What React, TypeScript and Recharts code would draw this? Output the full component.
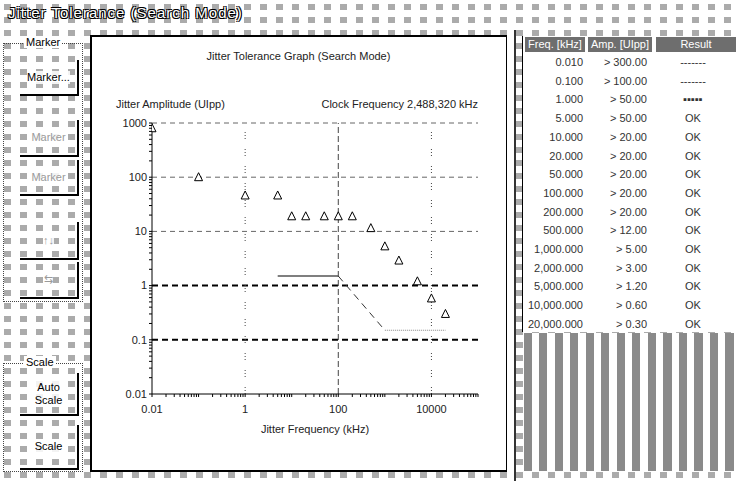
import React from "react";
import { ComposedChart, Scatter, XAxis, YAxis, ReferenceLine } from "recharts";

// measured points (kHz / UIpp)
const freqKHz = [0.01, 0.1, 1, 5, 10, 20, 50, 100, 200, 500, 1000, 2000, 5000, 10000, 20000];
const ampUIpp = [800, 100, 46, 46, 19, 19, 19, 19, 19, 11.5, 5.3, 2.9, 1.2, 0.58, 0.3];

// tolerance mask
const maskFreq = [5, 100, 1000, 20000];
const maskAmp = [1.5, 1.5, 0.15, 0.15];

// table text
const freqLabels = ["0.010", "0.100", "1.000", "5.000", "10.000", "20.000", "50.000", "100.000", "200.000", "500.000", "1,000.000", "2,000.000", "5,000.000", "10,000.000", "20,000.000"];
const ampLabels = ["> 300.00", "> 100.00", "> 50.00", "> 50.00", "> 20.00", "> 20.00", "> 20.00", "> 20.00", "> 20.00", "> 12.00", "> 5.00", "> 3.00", "> 1.20", "> 0.60", "> 0.30"];
const resultLabels = ["-------", "-------", "▪▪▪▪▪", "OK", "OK", "OK", "OK", "OK", "OK", "OK", "OK", "OK", "OK", "OK", "OK"];

// axes
const xDecades = [0.01, 0.1, 1, 10, 100, 1000, 10000, 100000];
const xMajor = [0.01, 1, 100, 10000];
const xMajorLabels = ["0.01", "1", "100", "10000"];
const yDecades = [0.01, 0.1, 1, 10, 100, 1000];
const yMajorLabels = ["0.01", "0.1", "1", "10", "100", "1000"];

const withMinor = (dec: number[]) =>
  dec.flatMap((d, i) => (i < dec.length - 1 ? [d, 2, 3, 4, 5, 6, 7, 8, 9].map((k, j) => (j === 0 ? d : d * k)) : [d]));

const xTicks = withMinor(xDecades);
const yTicks = withMinor(yDecades);

const points = freqKHz.map((f, i) => ({ f, a: ampUIpp[i] }));
const maskSeg = (i: number) => [
  { f: maskFreq[i], a: maskAmp[i] },
  { f: maskFreq[i + 1], a: maskAmp[i + 1] },
];

const FONT = '"Liberation Sans", Arial, sans-serif';

const Triangle = (p: any) => {
  const { cx, cy } = p;
  if (cx == null || cy == null) return <g />;
  return (
    <path
      d={`M${cx},${cy - 4.5}L${cx + 4},${cy + 3.5}L${cx - 4},${cy + 3.5}Z`}
      fill="#fff"
      stroke="#000"
      strokeWidth={1}
    />
  );
};

const NoDot = () => <g />;

const XTick = (p: any) => {
  const idx = xMajor.indexOf(p.payload.value);
  if (idx < 0) return <g />;
  return (
    <text x={p.x} y={p.y} dy="0.71em" textAnchor="middle" fontSize={11} fill="#222" fontFamily={FONT}>
      {xMajorLabels[idx]}
    </text>
  );
};

const YTick = (p: any) => {
  const idx = yDecades.indexOf(p.payload.value);
  if (idx < 0) return <g />;
  return (
    <text x={p.x} y={p.y} dy="0.35em" textAnchor="end" fontSize={11} fill="#222" fontFamily={FONT}>
      {yMajorLabels[idx]}
    </text>
  );
};

const pattern = {
  backgroundColor: "#ababab",
  backgroundImage:
    "linear-gradient(90deg, rgba(0,0,0,0) 7px, #fff 7px), linear-gradient(180deg, rgba(0,0,0,0) 6px, #fff 6px)",
  backgroundSize: "16px 13px",
  backgroundPosition: "4px 4px",
};

const Button = ({ top, height, children, disabled }: { top: number; height: number; children: React.ReactNode; disabled?: boolean }) => (
  <div
    style={{
      position: "absolute",
      left: 20,
      top,
      width: 57,
      height,
      borderRight: "2px solid #000",
      borderBottom: "2px solid #000",
      display: "flex",
      alignItems: "center",
      justifyContent: "center",
      textAlign: "center",
      color: disabled ? "#9a9a9a" : "#000",
      fontSize: 11,
      lineHeight: "13px",
    }}
  >
    <span style={{ background: "rgba(255,255,255,0.85)" }}>{children}</span>
  </div>
);

const GroupBox = ({ top, height, label }: { top: number; height: number; label: string }) => (
  <div
    style={{
      position: "absolute",
      left: 3,
      top,
      width: 78,
      height,
      border: "1px dotted #444",
    }}
  >
    <span style={{ position: "absolute", left: 20, top: -8, background: "#fff", padding: "0 2px", fontSize: 11 }}>{label}</span>
  </div>
);

const ROW_H = 18.7;

export default function App() {
  return (
    <div
      style={{
        position: "absolute",
        left: 0,
        top: 0,
        width: 740,
        height: 481,
        overflow: "hidden",
        fontFamily: FONT,
        ...pattern,
      }}
    >
      {/* window title */}
      <div
        style={{
          position: "absolute",
          left: 8,
          top: 4,
          fontSize: 15,
          color: "#fff",
          letterSpacing: 1,
          textShadow: "1px 1px 0 #000, -1px -1px 0 #000, 1px -1px 0 #000, -1px 1px 0 #000",
        }}
      >
        Jitter Tolerance (Search Mode)
      </div>

      {/* left controls */}
      <GroupBox top={43} height={257} label="Marker" />
      <Button top={60} height={34}>Marker...</Button>
      <Button top={120} height={35} disabled>Marker</Button>
      <Button top={160} height={34} disabled>Marker</Button>
      <Button top={222} height={36} disabled>↑↓</Button>
      <Button top={262} height={35} disabled>⇆</Button>
      <GroupBox top={363} height={107} label="Scale" />
      <Button top={373} height={41}>Auto<br />Scale</Button>
      <Button top={425} height={43}>Scale</Button>

      {/* graph panel */}
      <div
        style={{
          position: "absolute",
          left: 90,
          top: 35,
          width: 414,
          height: 433,
          background: "#fff",
          borderLeft: "2px solid #000",
          borderTop: "2px solid #000",
          borderRight: "1px solid #000",
          borderBottom: "2px solid #000",
        }}
      />
      <div style={{ position: "absolute", left: 91, top: 50, width: 415, textAlign: "center", fontSize: 11, color: "#222" }}>
        Jitter Tolerance Graph (Search Mode)
      </div>
      <div style={{ position: "absolute", left: 116, top: 98, fontSize: 11, color: "#222" }}>Jitter Amplitude (UIpp)</div>
      <div style={{ position: "absolute", left: 300, width: 178, top: 98, textAlign: "right", fontSize: 11, color: "#222" }}>
        Clock Frequency 2,488,320 kHz
      </div>
      <div style={{ position: "absolute", left: 91, top: 36 }}>
        <ComposedChart width={415} height={434} margin={{ top: 87, right: 28, left: 21, bottom: 46 }}>
          <XAxis
            type="number"
            dataKey="f"
            scale="log"
            domain={[0.01, 100000]}
            allowDataOverflow
            ticks={xTicks}
            interval={0}
            height={30}
            tickSize={3}
            tickMargin={8}
            axisLine={{ stroke: "#000" }}
            tickLine={{ stroke: "#000" }}
            tick={XTick}
            label={{ value: "Jitter Frequency (kHz)", position: "bottom", offset: 1, fontSize: 11, fill: "#222" }}
          />
          <YAxis
            type="number"
            dataKey="a"
            scale="log"
            domain={[0.01, 1000]}
            allowDataOverflow
            ticks={yTicks}
            interval={0}
            width={40}
            tickSize={3}
            tickMargin={2}
            axisLine={{ stroke: "#000" }}
            tickLine={{ stroke: "#000" }}
            tick={YTick}
          />
          <ReferenceLine y={1000} stroke="#666" strokeDasharray="5 4" />
          <ReferenceLine y={100} stroke="#666" strokeDasharray="5 4" />
          <ReferenceLine y={10} stroke="#666" strokeDasharray="5 4" />
          <ReferenceLine y={1} stroke="#000" strokeWidth={2} strokeDasharray="6 4" />
          <ReferenceLine y={0.1} stroke="#000" strokeWidth={2} strokeDasharray="6 4" />
          <ReferenceLine x={1} stroke="#444" strokeDasharray="1 2 1 2 1 10" />
          <ReferenceLine x={100} stroke="#444" strokeDasharray="6 3" />
          <ReferenceLine x={10000} stroke="#444" strokeDasharray="1 2 1 2 1 10" />
          <Scatter data={maskSeg(0)} line={{ stroke: "#555", strokeWidth: 1.5 }} shape={NoDot} isAnimationActive={false} />
          <Scatter data={maskSeg(1)} line={{ stroke: "#333", strokeWidth: 1, strokeDasharray: "7 5" }} shape={NoDot} isAnimationActive={false} />
          <Scatter data={maskSeg(2)} line={{ stroke: "#888", strokeWidth: 1, strokeDasharray: "1 1" }} shape={NoDot} isAnimationActive={false} />
          <Scatter data={points} shape={Triangle} isAnimationActive={false} />
        </ComposedChart>
      </div>

      {/* splitter */}
      <div style={{ position: "absolute", left: 514, top: 30, width: 2, height: 451, background: "#333" }} />

      {/* result table */}
      <div style={{ position: "absolute", left: 522, top: 36, width: 218, height: 296, background: "#fff", borderLeft: "1px solid #000" }}>
        {[
          { l: 2, w: 60, t: "Freq. [kHz]" },
          { l: 65, w: 64, t: "Amp. [UIpp]" },
          { l: 133, w: 80, t: "Result" },
        ].map((h) => (
          <div
            key={h.t}
            style={{
              position: "absolute",
              left: h.l,
              top: 1,
              width: h.w,
              height: 15,
              background: "#6e6e6e",
              color: "#fff",
              fontSize: 11,
              lineHeight: "15px",
              textAlign: "center",
            }}
          >
            {h.t}
          </div>
        ))}
        {freqLabels.map((f, i) => (
          <div key={f} style={{ position: "absolute", left: 0, top: 17 + i * ROW_H, width: 218, height: ROW_H, fontSize: 11, color: "#333", lineHeight: `${ROW_H}px` }}>
            <span style={{ position: "absolute", right: 218 - 60 }}>{f}</span>
            <span style={{ position: "absolute", right: 218 - 124 }}>{ampLabels[i]}</span>
            <span style={{ position: "absolute", left: 140, width: 60, textAlign: "center" }}>{resultLabels[i]}</span>
          </div>
        ))}
      </div>
      <div
        style={{
          position: "absolute",
          left: 524,
          top: 333,
          width: 216,
          height: 138,
          backgroundImage: "repeating-linear-gradient(90deg, #8a8a8a 0 8px, #fff 8px 15.5px)",
        }}
      />
    </div>
  );
}
